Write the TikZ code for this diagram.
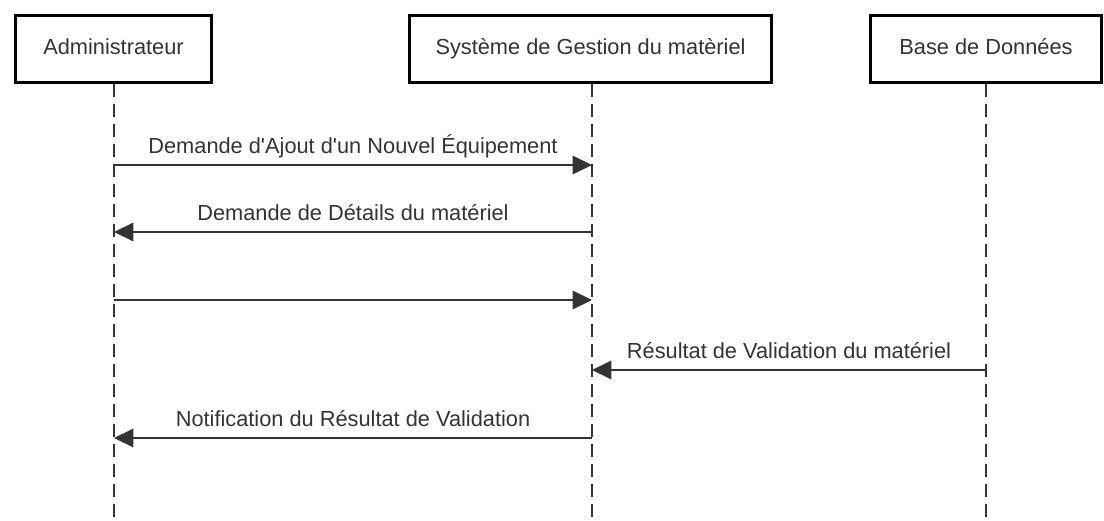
\documentclass[tikz,border=0pt]{standalone}
\usepackage{fontspec}
\setmainfont{Liberation Sans}
\usetikzlibrary{arrows.meta}

\definecolor{trait}{HTML}{333333}

\tikzset{
  acteur/.style={draw=black, line width=1.7pt, fill=white, text=trait,
    minimum width=#1, minimum height=38pt, inner sep=0pt,
    text height=9pt, text depth=2.5pt,
    font=\fontsize{12.4}{14}\selectfont},
  vie/.style={draw=trait, line width=0.9pt, dash pattern=on 7.4pt off 4pt},
  msg/.style={draw=trait, line width=0.9pt,
    -{Triangle[length=11pt, width=10.5pt]}},
  etiquette/.style={anchor=base, yshift=6.8pt, text=trait,
    font=\fontsize{12.4}{14}\selectfont}
}

\begin{document}
\begin{tikzpicture}[x=0.02cm, y=-0.02cm]
    \useasboundingbox (0,0) rectangle (1104,520);

    % lignes de vie
    \coordinate (adminbas) at (114,520);
    \coordinate (sysbas) at (592,520);
    \coordinate (basebas) at (986,520);

    % acteurs
    \node[acteur=111pt] (admin) at (113.5,49) {Administrateur};
    \node[acteur=206pt] (sys) at (590.5,49) {Système de Gestion du matèriel};
    \node[acteur=131pt] (base) at (986,49) {Base de Données};

    \draw[vie] (admin.south -| adminbas) -- (adminbas);
    \draw[vie] (sys.south -| sysbas) -- (sysbas);
    \draw[vie] (base.south -| basebas) -- (basebas);

    % points des messages
    \coordinate (a1) at (114,165);  \coordinate (s1) at (592,165);
    \coordinate (a2) at (114,232);  \coordinate (s2) at (592,232);
    \coordinate (a3) at (114,300);  \coordinate (s3) at (592,300);
    \coordinate (s4) at (592,370);  \coordinate (b4) at (986,370);
    \coordinate (a5) at (114,438);  \coordinate (s5) at (592,438);

    % messages
    \draw[msg] (a1) -- (s1) node[midway, etiquette] {Demande d\textquotesingle Ajout d\textquotesingle un Nouvel Équipement};
    \draw[msg] (s2) -- (a2) node[midway, etiquette] {Demande de Détails du matériel};
    \draw[msg] (a3) -- (s3);
    \draw[msg] (b4) -- (s4) node[midway, etiquette] {Résultat de Validation du matériel};
    \draw[msg] (s5) -- (a5) node[midway, etiquette] {Notification du Résultat de Validation};
\end{tikzpicture}
\end{document}
